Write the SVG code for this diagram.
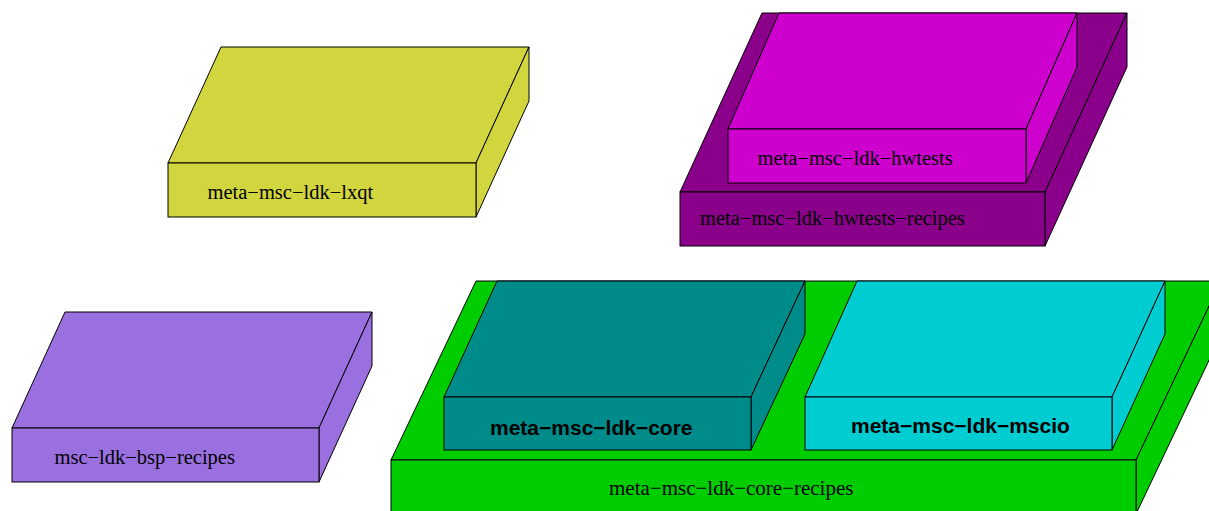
<svg xmlns="http://www.w3.org/2000/svg" width="1209" height="511" viewBox="0 0 1209 511">
<style>
  .f{stroke:#000;stroke-width:1;stroke-linejoin:miter}
  .t{font-family:"Liberation Serif","Times New Roman",serif;font-size:20.5px;fill:#000}
  .b{font-family:"Liberation Sans",Arial,sans-serif;font-size:21px;font-weight:bold;fill:#000}
  .lxqt{fill:#d2d63e}
  .hwr{fill:#8b008b}
  .hw{fill:#cd00cd}
  .bsp{fill:#9a6fe0}
  .cr{fill:#00cd00}
  .core{fill:#008b8b}
  .mscio{fill:#00cdd2}
</style>
<rect width="1209" height="511" fill="#fff"/>
<g id="meta-msc-ldk-lxqt" class="f lxqt">
  <polygon points="168,163 221,47 529,47 476,163"/>
  <polygon points="476,163 529,47 529,101 476,217"/>
  <rect x="168" y="163" width="308" height="54"/>
  <text class="t" x="207.5" y="199" stroke="none">meta−msc−ldk−lxqt</text>
</g>
<g id="meta-msc-ldk-hwtests-recipes" class="f hwr">
  <polygon points="680,192 762,13 1127,13 1045,192"/>
  <polygon points="1045,192 1127,13 1127,67 1045,246"/>
  <rect x="680" y="192" width="365" height="54"/>
  <text class="t" x="700" y="225" stroke="none">meta−msc−ldk−hwtests−recipes</text>
</g>
<g id="meta-msc-ldk-hwtests" class="f hw">
  <polygon points="728,129 779,13 1077,13 1026,129"/>
  <polygon points="1026,129 1077,13 1077,67 1026,183"/>
  <rect x="728" y="129" width="298" height="54"/>
  <text class="t" x="757.5" y="165" stroke="none">meta−msc−ldk−hwtests</text>
</g>
<g id="msc-ldk-bsp-recipes" class="f bsp">
  <polygon points="12,428 65,312 372,312 319,428"/>
  <polygon points="319,428 372,312 372,366 319,482"/>
  <rect x="12" y="428" width="307" height="54"/>
  <text class="t" x="54.5" y="464" stroke="none">msc−ldk−bsp−recipes</text>
</g>
<g id="meta-msc-ldk-core-recipes" class="f cr">
  <polygon points="391,460 476,281 1221,281 1136,460"/>
  <polygon points="1136,460 1221,281 1221,335 1136,514"/>
  <rect x="391" y="460" width="745" height="54"/>
  <text class="t" x="609" y="495" stroke="none" style="font-size:21px">meta−msc−ldk−core−recipes</text>
</g>
<g id="meta-msc-ldk-core" class="f core">
  <polygon points="444,397 497,281 805,281 751,397"/>
  <polygon points="751,397 805,281 805,334 751,450"/>
  <rect x="444" y="397" width="307" height="53"/>
  <text class="b" x="490" y="435" stroke="none">meta−msc−ldk−core</text>
</g>
<g id="meta-msc-ldk-mscio" class="f mscio">
  <polygon points="805,397 857,281 1165,281 1112,397"/>
  <polygon points="1112,397 1165,281 1165,334 1112,450"/>
  <rect x="805" y="397" width="307" height="53"/>
  <text class="b" x="851" y="433" stroke="none">meta−msc−ldk−mscio</text>
</g>
<g id="connectors"/>
</svg>
